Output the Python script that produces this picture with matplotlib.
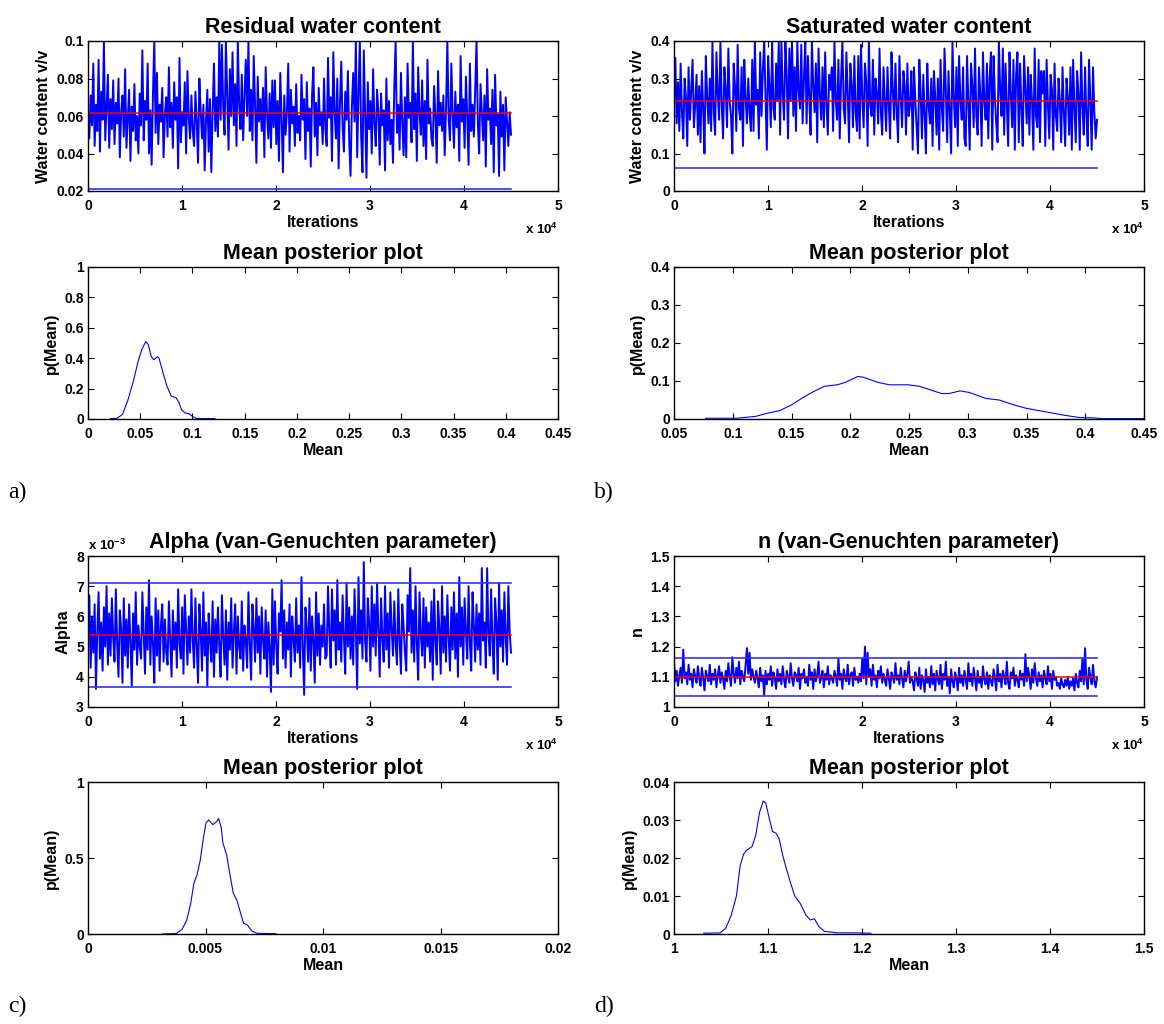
import numpy as np
import matplotlib
matplotlib.use("Agg")
import matplotlib.pyplot as plt
from matplotlib.ticker import FuncFormatter

# ---------------- data ----------------
n_iter = 45000

# residual water content trace, in 1e-3 v/v
resid_trace_milli = [
    62, 48, 71, 55, 88, 44, 66, 52, 90, 41, 73, 58, 100, 47, 64, 82, 43, 69, 53, 79,
    45, 67, 56, 80, 38, 62, 71, 49, 85, 43, 58, 74, 36, 65, 52, 77, 47, 60, 40, 72,
    55, 95, 47, 68, 58, 88, 40, 63, 34, 72, 100, 51, 83, 45, 66, 57, 75, 38, 61, 70,
    49, 86, 54, 67, 43, 78, 58, 70, 32, 91, 46, 62, 55, 78, 40, 84, 59, 48, 71, 52,
    44, 73, 57, 35, 80, 62, 48, 66, 31, 58, 74, 41, 69, 30, 63, 88, 52, 70, 49, 100,
    58, 98, 64, 50, 100, 72, 42, 85, 60, 94, 55, 77, 44, 100, 66, 53, 82, 47, 71, 90,
    60, 100, 52, 74, 47, 92, 66, 35, 81, 57, 69, 52, 75, 38, 86, 61, 48, 72, 43, 79,
    54, 79, 45, 68, 36, 83, 59, 30, 71, 50, 62, 88, 41, 74, 56, 65, 44, 77, 51, 60,
    47, 82, 58, 69, 37, 78, 52, 64, 33, 72, 86, 49, 67, 39, 75, 55, 62, 45, 80, 53,
    44, 91, 59, 70, 36, 94, 62, 48, 80, 32, 67, 89, 54, 41, 73, 58, 84, 46, 28, 65,
    83, 57, 100, 38, 72, 100, 49, 30, 95, 61, 27, 78, 53, 68, 40, 85, 56, 44, 74, 62,
    34, 72, 55, 63, 31, 80, 47, 68, 45, 58, 35, 76, 100, 51, 66, 42, 83, 57, 39, 70,
    38, 88, 59, 67, 46, 100, 53, 72, 36, 86, 62, 50, 79, 44, 68, 37, 90, 56, 64, 48,
    44, 76, 60, 35, 84, 55, 67, 52, 71, 39, 63, 100, 58, 47, 88, 61, 43, 73, 54, 66,
    36, 92, 57, 69, 43, 81, 60, 34, 88, 52, 66, 49, 74, 100, 56, 40, 77, 62, 47, 71,
    33, 85, 58, 64, 45, 74, 30, 82, 55, 61, 28, 73, 49, 66, 31, 70, 57, 44, 62, 50,
]
resid_mean = 0.0615
resid_bounds = [0.021]

# saturated water content trace, in 1e-3 v/v
sat_trace_milli = [
    240, 355, 180, 290, 160, 340, 210, 140, 300, 250, 120, 330, 190, 270, 350, 170, 230, 310, 150, 280,
    130, 320, 220, 100, 360, 250, 180, 300, 160, 400, 210, 150, 370, 260, 190, 400, 230, 140, 330, 270,
    170, 380, 240, 200, 100, 340, 280, 160, 390, 220, 190, 330, 120, 350, 250, 180, 300, 210, 160, 350,
    160, 400, 230, 270, 140, 370, 200, 320, 400, 250, 110, 360, 280, 170, 400, 220, 190, 340, 240, 400,
    150, 400, 260, 190, 400, 310, 140, 380, 240, 400, 200, 330, 160, 400, 270, 220, 390, 180, 300, 400,
    180, 360, 250, 150, 400, 280, 210, 340, 130, 380, 260, 190, 330, 170, 370, 230, 150, 310, 270, 330,
    160, 400, 240, 190, 350, 140, 300, 400, 220, 180, 370, 260, 130, 340, 280, 170, 360, 210, 160, 360,
    140, 390, 250, 170, 340, 290, 120, 400, 230, 200, 350, 150, 300, 260, 180, 380, 210, 150, 330, 240,
    160, 330, 230, 140, 370, 270, 190, 340, 210, 130, 360, 250, 170, 320, 280, 150, 340, 200, 230, 320,
    110, 330, 240, 170, 100, 350, 260, 140, 310, 200, 100, 340, 230, 180, 300, 120, 320, 250, 150, 300,
    110, 350, 220, 160, 380, 270, 130, 320, 210, 100, 400, 250, 170, 330, 120, 360, 240, 190, 330, 140,
    120, 360, 230, 110, 340, 280, 170, 380, 200, 150, 330, 260, 120, 370, 240, 190, 340, 140, 300, 370,
    110, 360, 250, 180, 130, 400, 270, 200, 380, 150, 340, 230, 120, 370, 260, 170, 350, 110, 310, 370,
    130, 340, 220, 120, 360, 270, 180, 330, 150, 310, 240, 110, 380, 200, 170, 350, 130, 320, 260, 320,
    120, 350, 230, 140, 310, 270, 110, 340, 200, 160, 300, 240, 130, 330, 210, 120, 300, 250, 150, 330,
    110, 350, 220, 130, 320, 260, 110, 370, 230, 150, 330, 200, 120, 350, 240, 110, 330, 210, 140, 190,
]
sat_mean = 0.241
sat_bounds = [0.062]

# alpha trace, in 1e-4
alpha_trace_e4 = [
    52, 67, 43, 60, 48, 64, 36, 55, 68, 46, 58, 42, 63, 50, 70, 44, 61, 47, 66, 53,
    45, 69, 51, 40, 62, 56, 38, 66, 47, 59, 43, 64, 52, 37, 61, 49, 68, 44, 57, 50,
    46, 68, 54, 41, 63, 49, 72, 44, 60, 51, 38, 66, 47, 62, 42, 57, 64, 45, 59, 48,
    44, 65, 53, 40, 62, 49, 58, 43, 69, 51, 46, 63, 41, 67, 55, 44, 60, 48, 69, 52,
    43, 66, 50, 38, 64, 55, 42, 68, 47, 58, 37, 61, 52, 45, 65, 40, 59, 48, 63, 50,
    40, 67, 53, 44, 62, 39, 58, 49, 66, 43, 55, 64, 41, 60, 50, 46, 65, 42, 57, 52,
    43, 68, 51, 39, 64, 56, 45, 66, 48, 60, 41, 63, 52, 46, 62, 40, 58, 49, 35, 69,
    44, 65, 50, 41, 61, 55, 72, 46, 62, 43, 58, 49, 64, 40, 60, 53, 45, 66, 48, 57,
    43, 73, 50, 34, 63, 56, 45, 66, 42, 60, 52, 38, 68, 47, 61, 44, 57, 50, 64, 46,
    47, 70, 55, 43, 69, 52, 62, 44, 72, 49, 58, 45, 67, 53, 41, 71, 50, 63, 46, 60,
    44, 69, 55, 36, 73, 51, 62, 46, 78, 52, 45, 66, 58, 42, 70, 50, 64, 47, 71, 55,
    40, 66, 53, 45, 70, 49, 61, 43, 68, 56, 47, 65, 51, 44, 69, 52, 41, 64, 57, 48,
    42, 67, 55, 76, 48, 62, 45, 70, 51, 39, 68, 54, 47, 66, 43, 63, 50, 58, 45, 65,
    39, 69, 52, 44, 65, 56, 41, 70, 48, 60, 45, 67, 53, 42, 63, 49, 68, 46, 61, 40,
    73, 50, 63, 44, 66, 55, 46, 70, 51, 42, 68, 57, 45, 64, 49, 61, 44, 76, 52, 58,
    43, 76, 54, 47, 69, 52, 41, 66, 58, 39, 71, 50, 62, 45, 68, 53, 44, 70, 55, 48,
]
alpha_mean = 5.38e-3
alpha_bounds = [7.12e-3, 3.65e-3]

# n trace, in 1e-3
n_trace_milli = [
    1150, 1085, 1120, 1070, 1105, 1130, 1080, 1190, 1095, 1115, 1075, 1140, 1090, 1110, 1065, 1125, 1100, 1080, 1135, 1095,
    1070, 1130, 1095, 1055, 1120, 1100, 1085, 1140, 1075, 1110, 1090, 1125, 1065, 1105, 1135, 1080, 1115, 1095, 1060, 1120,
    1085, 1145, 1100, 1070, 1165, 1110, 1080, 1130, 1095, 1150, 1075, 1120, 1100, 1085, 1140, 1195, 1110, 1180, 1090, 1125,
    1100, 1080, 1120, 1095, 1065, 1130, 1085, 1105, 1040, 1120, 1075, 1110, 1090, 1135, 1070, 1115, 1095, 1060, 1125, 1085,
    1110, 1075, 1135, 1090, 1065, 1120, 1100, 1080, 1145, 1095, 1070, 1115, 1105, 1085, 1130, 1060, 1110, 1095, 1125, 1080,
    1100, 1070, 1140, 1090, 1115, 1060, 1125, 1085, 1105, 1150, 1080, 1095, 1120, 1065, 1110, 1090, 1135, 1075, 1105, 1095,
    1080, 1120, 1100, 1070, 1160, 1090, 1110, 1060, 1125, 1095, 1085, 1140, 1075, 1105, 1115, 1070, 1130, 1090, 1100, 1080,
    1110, 1085, 1160, 1095, 1200, 1075, 1180, 1100, 1125, 1070, 1140, 1090, 1105, 1065, 1120, 1095, 1135, 1080, 1110, 1090,
    1070, 1125, 1095, 1060, 1115, 1100, 1080, 1145, 1090, 1105, 1075, 1130, 1095, 1065, 1120, 1085, 1110, 1150, 1080, 1100,
    1085, 1055, 1115, 1095, 1070, 1130, 1060, 1105, 1090, 1050, 1125, 1080, 1100, 1065, 1135, 1075, 1110, 1055, 1120, 1090,
    1075, 1140, 1060, 1110, 1090, 1150, 1070, 1100, 1045, 1125, 1085, 1065, 1115, 1095, 1055, 1130, 1080, 1105, 1070, 1120,
    1090, 1060, 1145, 1085, 1110, 1070, 1130, 1095, 1055, 1120, 1080, 1100, 1065, 1135, 1090, 1075, 1115, 1060, 1105, 1085,
    1070, 1125, 1095, 1055, 1140, 1085, 1110, 1065, 1120, 1100, 1075, 1150, 1080, 1060, 1115, 1095, 1130, 1070, 1105, 1090,
    1065, 1120, 1090, 1110, 1070, 1175, 1085, 1130, 1100, 1060, 1125, 1080, 1145, 1095, 1070, 1115, 1085, 1105, 1065, 1120,
    1095, 1075, 1135, 1085, 1110, 1060, 1120, 1090, 1100, 1070, 1080, 1060, 1095, 1075, 1065, 1090, 1070, 1100, 1060, 1085,
    1070, 1095, 1055, 1110, 1080, 1065, 1120, 1085, 1160, 1075, 1195, 1090, 1060, 1130, 1100, 1075, 1140, 1085, 1065, 1100,
]
n_mean = 1.099
n_bounds = [1.163, 1.037]

# posterior curves (Mean, p(Mean))
post_a_x = [0.0216, 0.0276, 0.033, 0.038, 0.0435, 0.048, 0.0517, 0.0553, 0.0577, 0.0606,
            0.063, 0.0666, 0.068, 0.072, 0.0754, 0.0797, 0.0843, 0.087, 0.0896, 0.093,
            0.0967, 0.0995, 0.103, 0.107, 0.1215]
post_a_y = [0.003, 0.004, 0.03, 0.12, 0.25, 0.38, 0.46, 0.51, 0.49, 0.41,
            0.39, 0.41, 0.40, 0.30, 0.22, 0.15, 0.14, 0.11, 0.06, 0.04,
            0.035, 0.02, 0.005, 0.003, 0.003]

post_b_x = [0.077, 0.104, 0.11, 0.1196, 0.129, 0.14, 0.15, 0.159, 0.1686, 0.178,
            0.189, 0.1955, 0.2065, 0.211, 0.224, 0.2335, 0.249, 0.259, 0.268, 0.2777,
            0.284, 0.2935, 0.301, 0.3155, 0.3267, 0.3393, 0.35, 0.366, 0.382, 0.3947,
            0.407, 0.4137, 0.45]
post_b_y = [0.002, 0.002, 0.004, 0.007, 0.015, 0.022, 0.037, 0.055, 0.072, 0.086,
            0.090, 0.096, 0.112, 0.110, 0.096, 0.090, 0.090, 0.086, 0.077, 0.067,
            0.067, 0.074, 0.070, 0.054, 0.050, 0.037, 0.028, 0.019, 0.010, 0.004,
            0.003, 0.001, 0.001]

post_c_x = [0.00316, 0.00375, 0.0040, 0.0042, 0.00437, 0.0045, 0.00464, 0.00477, 0.0049, 0.00502,
            0.00513, 0.00532, 0.00548, 0.00556, 0.00567, 0.00574, 0.0059, 0.00603, 0.00618, 0.00634,
            0.00647, 0.00662, 0.00678, 0.00697, 0.0072, 0.0080]
post_c_y = [0.0, 0.003, 0.03, 0.09, 0.20, 0.33, 0.39, 0.48, 0.62, 0.73,
            0.75, 0.72, 0.74, 0.76, 0.70, 0.60, 0.52, 0.40, 0.27, 0.22,
            0.15, 0.07, 0.06, 0.02, 0.004, 0.002]

post_d_x = [1.0316, 1.049, 1.055, 1.061, 1.0664, 1.0704, 1.074, 1.077, 1.083, 1.087,
            1.091, 1.0949, 1.0976, 1.1008, 1.1047, 1.1087, 1.1119, 1.1154, 1.1186, 1.1233,
            1.1285, 1.1344, 1.1403, 1.145, 1.1494, 1.154, 1.16, 1.174, 1.1937, 1.2095]
post_d_y = [0.0002, 0.0003, 0.0015, 0.005, 0.010, 0.018, 0.021, 0.022, 0.023, 0.026,
            0.032, 0.035, 0.0345, 0.031, 0.027, 0.0265, 0.025, 0.021, 0.018, 0.014,
            0.010, 0.008, 0.005, 0.0037, 0.004, 0.002, 0.0007, 0.0003, 0.0003, 0.0002]

titles = ["Residual water content", "Saturated water content",
          "Alpha (van-Genuchten parameter)", "n (van-Genuchten parameter)"]
trace_ylabels = ["Water content v/v", "Water content v/v", "Alpha", "n"]
panel_labels = ["a)", "b)", "c)", "d)"]

# ---------------- style ----------------
plt.rcParams["font.family"] = ["Liberation Sans", "DejaVu Sans"]
plt.rcParams["font.weight"] = "bold"
plt.rcParams["axes.labelweight"] = "bold"
plt.rcParams["axes.titleweight"] = "bold"
plt.rcParams["mathtext.fontset"] = "custom"
plt.rcParams["mathtext.rm"] = "Liberation Sans:bold"
plt.rcParams["mathtext.bf"] = "Liberation Sans:bold"
plt.rcParams["mathtext.default"] = "bf"

W, H = 1164, 1024
fig = plt.figure(figsize=(W / 100, H / 100), dpi=100)


def px_axes(left, top, right, bottom):
    return fig.add_axes([left / W, 1 - bottom / H, (right - left) / W, (bottom - top) / H])


def style(ax):
    ax.tick_params(direction="in", top=True, right=True, length=4, width=0.8,
                   labelsize=10, colors="black")
    ax.tick_params(axis="x", pad=5.5)
    ax.tick_params(axis="y", pad=3)
    for s in ax.spines.values():
        s.set_linewidth(1.0)
        s.set_color("black")


gfmt = FuncFormatter(lambda v, p: f"{v:g}")
iterfmt = FuncFormatter(lambda v, p: f"{v / 1e4:g}")

cols = [(88, 558), (674, 1144)]
rows_trace = [(41, 191), (556, 707)]
rows_post = [(267, 419), (782, 934)]

traces = [np.array(resid_trace_milli) * 1e-3, np.array(sat_trace_milli) * 1e-3,
          np.array(alpha_trace_e4) * 1e-4, np.array(n_trace_milli) * 1e-3]
means = [resid_mean, sat_mean, alpha_mean, n_mean]
bounds = [resid_bounds, sat_bounds, alpha_bounds, n_bounds]
trace_ylims = [(0.02, 0.1), (0, 0.4), (3e-3, 8e-3), (1, 1.5)]
trace_yticks = [[0.02, 0.04, 0.06, 0.08, 0.1], [0, 0.1, 0.2, 0.3, 0.4],
                [3e-3, 4e-3, 5e-3, 6e-3, 7e-3, 8e-3], [1, 1.1, 1.2, 1.3, 1.4, 1.5]]

posts = [(post_a_x, post_a_y), (post_b_x, post_b_y), (post_c_x, post_c_y), (post_d_x, post_d_y)]
post_xlims = [(0, 0.45), (0.05, 0.45), (0, 0.02), (1, 1.5)]
post_xticks = [[0, 0.05, 0.1, 0.15, 0.2, 0.25, 0.3, 0.35, 0.4, 0.45],
               [0.05, 0.1, 0.15, 0.2, 0.25, 0.3, 0.35, 0.4, 0.45],
               [0, 0.005, 0.01, 0.015, 0.02],
               [1, 1.1, 1.2, 1.3, 1.4, 1.5]]
post_ylims = [(0, 1), (0, 0.4), (0, 1), (0, 0.04)]
post_yticks = [[0, 0.2, 0.4, 0.6, 0.8, 1], [0, 0.1, 0.2, 0.3, 0.4],
               [0, 0.5, 1], [0, 0.01, 0.02, 0.03, 0.04]]

label_pos = [(8, 492), (594, 492), (8, 1006), (594, 1006)]

for i in range(4):
    c = i % 2
    r = i // 2
    L, R = cols[c]
    # trace
    ax = px_axes(L, rows_trace[r][0], R, rows_trace[r][1])
    tr = traces[i]
    x_it = np.linspace(0, n_iter, len(tr))
    ax.plot(x_it, tr, color=(0, 0, 1), lw=1.4)
    for b in bounds[i]:
        ax.plot([0, n_iter], [b, b], color="#3030ff", lw=1.2)
    ax.plot([0, n_iter], [means[i], means[i]], color=(1, 0, 0), lw=1.1)
    ax.set_xlim(0, 50000)
    ax.set_ylim(*trace_ylims[i])
    ax.set_xticks([0, 10000, 20000, 30000, 40000, 50000])
    ax.xaxis.set_major_formatter(iterfmt)
    ax.set_yticks(trace_yticks[i])
    if i == 2:
        ax.yaxis.set_major_formatter(FuncFormatter(lambda v, p: f"{v * 1e3:g}"))
        fig.text(L / W, 1 - 545 / H, r"x 10$^{-3}$", fontsize=9.5, ha="left", va="center")
    else:
        ax.yaxis.set_major_formatter(gfmt)
    style(ax)
    ax.set_title(titles[i], fontsize=15.5, pad=6)
    ax.set_xlabel("Iterations", fontsize=11.5, labelpad=2)
    ax.set_ylabel(trace_ylabels[i], fontsize=11.5, labelpad=4)
    fig.text(R / W, 1 - (rows_trace[r][1] + 38) / H, r"x 10$^{4}$", fontsize=9.5,
             ha="right", va="center")

    # posterior
    ax2 = px_axes(L, rows_post[r][0], R, rows_post[r][1])
    px, py = posts[i]
    ax2.plot(px, py, color=(0, 0, 1), lw=0.8)
    ax2.set_xlim(*post_xlims[i])
    ax2.set_ylim(*post_ylims[i])
    ax2.set_xticks(post_xticks[i])
    ax2.set_yticks(post_yticks[i])
    ax2.xaxis.set_major_formatter(gfmt)
    ax2.yaxis.set_major_formatter(gfmt)
    style(ax2)
    ax2.set_title("Mean posterior plot", fontsize=15.5, pad=6)
    ax2.set_xlabel("Mean", fontsize=11.5, labelpad=2)
    ax2.set_ylabel("p(Mean)", fontsize=11.5, labelpad=4)

    fig.text(label_pos[i][0] / W, 1 - label_pos[i][1] / H, panel_labels[i],
             family=["Liberation Serif", "DejaVu Serif"], fontweight="normal",
             fontsize=17, ha="left", va="center")

fig.savefig("out.png", dpi=100)
